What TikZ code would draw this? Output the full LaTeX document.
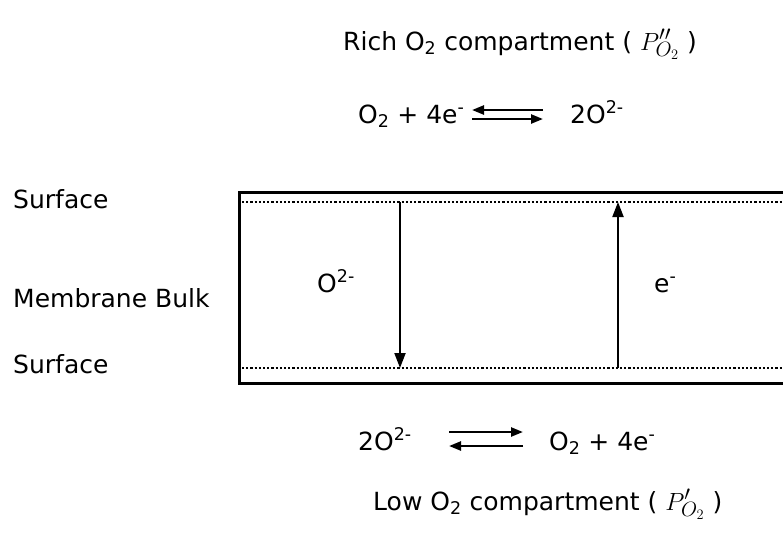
\documentclass[tikz,border=0pt]{standalone}
\usepackage{fontspec}
\setmainfont{DejaVu Sans}
\usepackage{tikz}
\usetikzlibrary{arrows.meta}

\newcommand{\pres}[1]{{\fontsize{31}{34}\selectfont$P#1_{O_2}$}}

\begin{document}
\begin{tikzpicture}[x=1pt,y=-1pt,
  lbl/.style={anchor=base west,inner sep=0pt,font=\fontsize{25}{29}\selectfont},
  frame/.style={line width=3pt,draw=black},
  surf/.style={line width=2.4pt,draw=black,dash pattern=on 2.2pt off 2pt},
  flux/.style={-{Triangle[length=15pt,width=11pt]},line width=2pt,draw=black},
  eq/.style={-{Triangle[length=12pt,width=9pt]},line width=2.4pt,draw=black}
]
\useasboundingbox (0,0) rectangle (783,547);

% compartments
\node[lbl] (rich) at (343,50) {Rich O\textsubscript{2} compartment ( \pres{''} )};
\node[lbl] (low) at (373,510) {Low O\textsubscript{2} compartment ( \pres{'} )};

% surface reactions
\node[lbl] (rtl) at (358,123) {O\textsubscript{2} + 4e\textsuperscript{-}};
\node[lbl] (rtr) at (570,123) {2O\textsuperscript{2-}};
\node[lbl] (rbl) at (358,450) {2O\textsuperscript{2-}};
\node[lbl] (rbr) at (549,450) {O\textsubscript{2} + 4e\textsuperscript{-}};

\coordinate (ta) at (472,110);
\coordinate (tb) at (543,110);
\coordinate (tc) at (472,119);
\coordinate (td) at (543,119);
\coordinate (ba) at (449,432);
\coordinate (bb) at (523,432);
\coordinate (bc) at (449,446);
\coordinate (bd) at (523,446);

\draw[eq] (tb)--(ta);
\draw[eq] (tc)--(td);
\draw[eq] (ba)--(bb);
\draw[eq] (bd)--(bc);

% membrane
\node[lbl] (s1) at (13,208) {Surface};
\node[lbl] (bulk) at (13,307) {Membrane Bulk};
\node[lbl] (s2) at (13,373) {Surface};

\draw[frame] (786,192)--(239,192)--(239,383)--(786,383);
\draw[surf] (242,202)--(783,202);
\draw[surf] (242,368)--(783,368);

\coordinate (otop) at (400,202);
\coordinate (obot) at (400,368);
\coordinate (ebot) at (618,368);
\coordinate (etop) at (618,202);

\draw[flux] (otop)--(obot);
\draw[flux] (ebot)--(etop);

\node[lbl] (oion) at (317,292) {O\textsuperscript{2-}};
\node[lbl] (elec) at (654,292) {e\textsuperscript{-}};
\end{tikzpicture}
\end{document}
